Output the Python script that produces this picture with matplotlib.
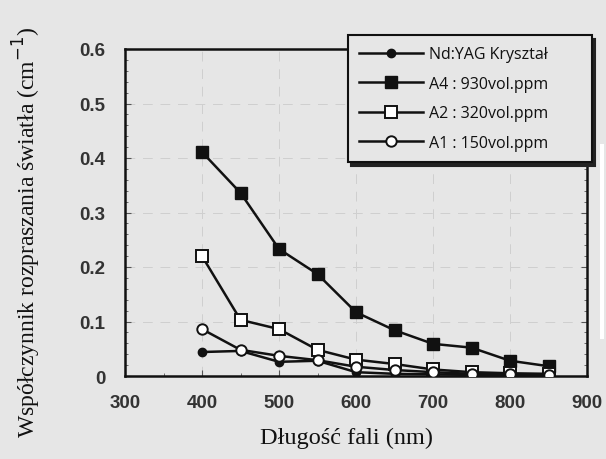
import matplotlib
matplotlib.use("Agg")
import matplotlib.pyplot as plt
from matplotlib.patches import Rectangle
from matplotlib.ticker import MultipleLocator, FuncFormatter

# Wavelength (nm) and scattering coefficients (cm^-1)
wavelength = [400, 450, 500, 550, 600, 650, 700, 750, 800, 850]
nd_yag = [0.044, 0.046, 0.026, 0.028, 0.007, 0.004, 0.003, 0.002, 0.002, 0.001]
a4_930 = [0.411, 0.336, 0.233, 0.187, 0.117, 0.084, 0.059, 0.052, 0.028, 0.018]
a2_320 = [0.220, 0.103, 0.086, 0.048, 0.030, 0.022, 0.012, 0.007, 0.005, 0.004]
a1_150 = [0.086, 0.048, 0.037, 0.029, 0.017, 0.011, 0.007, 0.004, 0.003, 0.002]

series_labels = ["Nd:YAG Kryształ", "A4 : 930vol.ppm", "A2 : 320vol.ppm", "A1 : 150vol.ppm"]
x_ticks = [300, 400, 500, 600, 700, 800, 900]
y_ticks = [0, 0.1, 0.2, 0.3, 0.4, 0.5, 0.6]

bg = "#e6e6e6"
ink = "#111111"

W, H = 606, 460
fig = plt.figure(figsize=(W / 100, H / 100), dpi=100, facecolor=bg)
ax = fig.add_axes([125 / W, 1 - 377 / H, 462 / W, 327 / H], facecolor=bg)

lw = 1.8
ax.plot(wavelength, nd_yag, color=ink, lw=lw, marker="o", ms=6,
        mfc=ink, mec=ink, label=series_labels[0], zorder=3)
ax.plot(wavelength, a4_930, color=ink, lw=lw, marker="s", ms=8.5,
        mfc=ink, mec=ink, label=series_labels[1], zorder=3)
ax.plot(wavelength, a2_320, color=ink, lw=lw, marker="s", ms=8.5,
        mfc="white", mec=ink, mew=1.4, label=series_labels[2], zorder=4)
ax.plot(wavelength, a1_150, color=ink, lw=lw, marker="o", ms=7.5,
        mfc="white", mec=ink, mew=1.4, label=series_labels[3], zorder=5)

ax.set_xlim(300, 900)
ax.set_ylim(0, 0.6)
ax.set_xticks(x_ticks)
ax.set_yticks(y_ticks)
ax.yaxis.set_major_formatter(FuncFormatter(lambda v, p: "0" if abs(v) < 1e-9 else f"{v:.1f}"))
ax.yaxis.set_minor_locator(MultipleLocator(0.02))
ax.xaxis.set_minor_locator(MultipleLocator(50))

ax.grid(True, which="major", color="#cfcfcf", lw=0.7, ls=(0, (10, 8)))
ax.set_axisbelow(True)

for side in ["left", "right", "top", "bottom"]:
    ax.spines[side].set_linewidth(1.8)
    ax.spines[side].set_color(ink)

ax.tick_params(which="both", direction="in", left=True, right=True,
               top=False, bottom=True, color="#555555")
ax.tick_params(axis="y", which="major", pad=14)
ax.tick_params(axis="x", which="major", pad=13)
ax.tick_params(which="major", length=4, width=0.8, labelsize=13.5,
               labelcolor="#333333")
ax.tick_params(which="minor", length=2, width=0.6)
for lab in ax.get_xticklabels() + ax.get_yticklabels():
    lab.set_fontweight("bold")
    lab.set_family("Liberation Sans")

fig.text(347 / W, 1 - 438 / H, "Długość fali (nm)", family="Liberation Serif",
         fontsize=17.5, color=ink, ha="center", va="center")
fig.text(27 / W, 1 - 232 / H, "Współczynnik rozpraszania światła (cm$^{-1}$)",
         family="Liberation Serif", fontsize=17, color=ink, rotation=90,
         ha="center", va="center")

leg = ax.legend(loc="upper left", bbox_to_anchor=(340 / W, 1 - 28 / H, 260 / W, 0.0),
                mode="expand", bbox_transform=fig.transFigure, frameon=True,
                fancybox=False, shadow={"color": "#222222", "alpha": 1.0,
                                        "ox": 2, "oy": -3},
                framealpha=1, facecolor=bg, edgecolor=ink, handlelength=4.0,
                labelspacing=0.85, borderpad=0.7, handletextpad=0.4,
                prop={"family": "Open Sans", "size": 11.5})
leg.get_frame().set_linewidth(1.5)
for t in leg.get_texts():
    t.set_color(ink)

# light streak at the right margin
fig.add_artist(Rectangle((600 / W, 1 - 340 / H), 4 / W, 195 / H,
                         transform=fig.transFigure, facecolor="white",
                         edgecolor="none", zorder=10))

fig.savefig("out.png", dpi=100, facecolor=bg)
